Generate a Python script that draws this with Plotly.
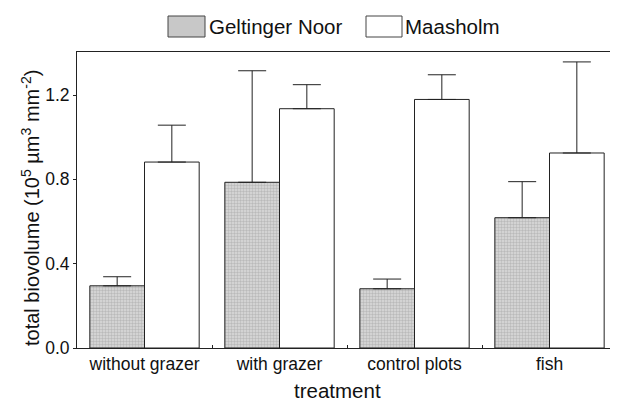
import plotly.graph_objects as go

categories = ["without grazer", "with grazer", "control plots", "fish"]
geltinger = [0.295, 0.786, 0.281, 0.618]
geltinger_err = [0.043, 0.529, 0.046, 0.171]
maasholm = [0.882, 1.135, 1.179, 0.925]
maasholm_err = [0.175, 0.114, 0.117, 0.432]
y_ticks = [0.0, 0.4, 0.8, 1.2]
y_tick_labels = ["0.0", "0.4", "0.8", "1.2"]

FONT = "Liberation Sans, Arial, sans-serif"
GRAY = "#c8c8c8"

fig = go.Figure()
fig.add_trace(go.Bar(
    x=categories, y=geltinger, name="Geltinger Noor",
    marker=dict(color=GRAY, line=dict(color="#222", width=1),
                pattern=dict(shape=".", fgcolor="#9a9a9a", bgcolor="#dadada", size=3, solidity=0.5)),
    error_y=dict(type="data", array=geltinger_err, arrayminus=[0]*4, symmetric=False,
                 color="#222", thickness=1, width=14),
))
fig.add_trace(go.Bar(
    x=categories, y=maasholm, name="Maasholm",
    marker=dict(color="white", line=dict(color="#222", width=1)),
    error_y=dict(type="data", array=maasholm_err, arrayminus=[0]*4, symmetric=False,
                 color="#222", thickness=1, width=14),
))

# page body has an 8px default margin, so the figure is shifted by 8px
fig.update_layout(
    width=610, height=395,
    margin=dict(l=69, r=1, t=44, b=55, autoexpand=False),
    paper_bgcolor="white", plot_bgcolor="white",
    barmode="group", bargap=0.19, bargroupgap=0,
    showlegend=False,
    font=dict(family=FONT, size=17.5, color="#111"),
)
fig.update_xaxes(
    type="category", range=[-0.5, 3.5], automargin=False,
    showline=True, linecolor="#222", linewidth=1, mirror=True,
    ticks="inside", ticklen=3, tickcolor="#222", tickson="boundaries",
    showgrid=False,
    tickfont=dict(size=17.5),
)
fig.update_yaxes(
    range=[0, 1.404], automargin=False,
    tickvals=y_ticks, ticktext=y_tick_labels,
    showline=True, linecolor="#222", linewidth=1,
    ticks="outside", ticklen=3, tickcolor="#222",
    showgrid=False, zeroline=False,
    tickfont=dict(size=17.5),
)

# screen pixel helpers relative to plot area 77..617 x 52..348
def px_x(px):
    return (px - 77) / 540

def px_y(py):
    return (348 - py) / 296

# axis titles
fig.add_annotation(text="total biovolume (10<sup>5</sup> µm<sup>3</sup> mm<sup>-2</sup>)",
                   xref="paper", yref="paper", x=px_x(31), y=px_y(208),
                   xanchor="center", yanchor="middle", textangle=-90,
                   showarrow=False, font=dict(size=20))
fig.add_annotation(text="treatment", xref="paper", yref="paper",
                   x=px_x(337), y=px_y(390), xanchor="center", yanchor="middle",
                   showarrow=False, font=dict(size=20.5))

# manual legend
fig.add_shape(type="rect", xref="paper", yref="paper",
              x0=px_x(168), x1=px_x(205), y0=px_y(37), y1=px_y(16),
              fillcolor=GRAY, line=dict(color="#444", width=1))
fig.add_shape(type="rect", xref="paper", yref="paper",
              x0=px_x(366), x1=px_x(402), y0=px_y(37), y1=px_y(16),
              fillcolor="white", line=dict(color="#444", width=1))
fig.add_annotation(text="Geltinger Noor", xref="paper", yref="paper",
                   x=px_x(207), y=px_y(26.5), xanchor="left", yanchor="middle",
                   showarrow=False, font=dict(size=20.5))
fig.add_annotation(text="Maasholm", xref="paper", yref="paper",
                   x=px_x(403), y=px_y(26.5), xanchor="left", yanchor="middle",
                   showarrow=False, font=dict(size=20.5))

fig.write_html("out.html")
